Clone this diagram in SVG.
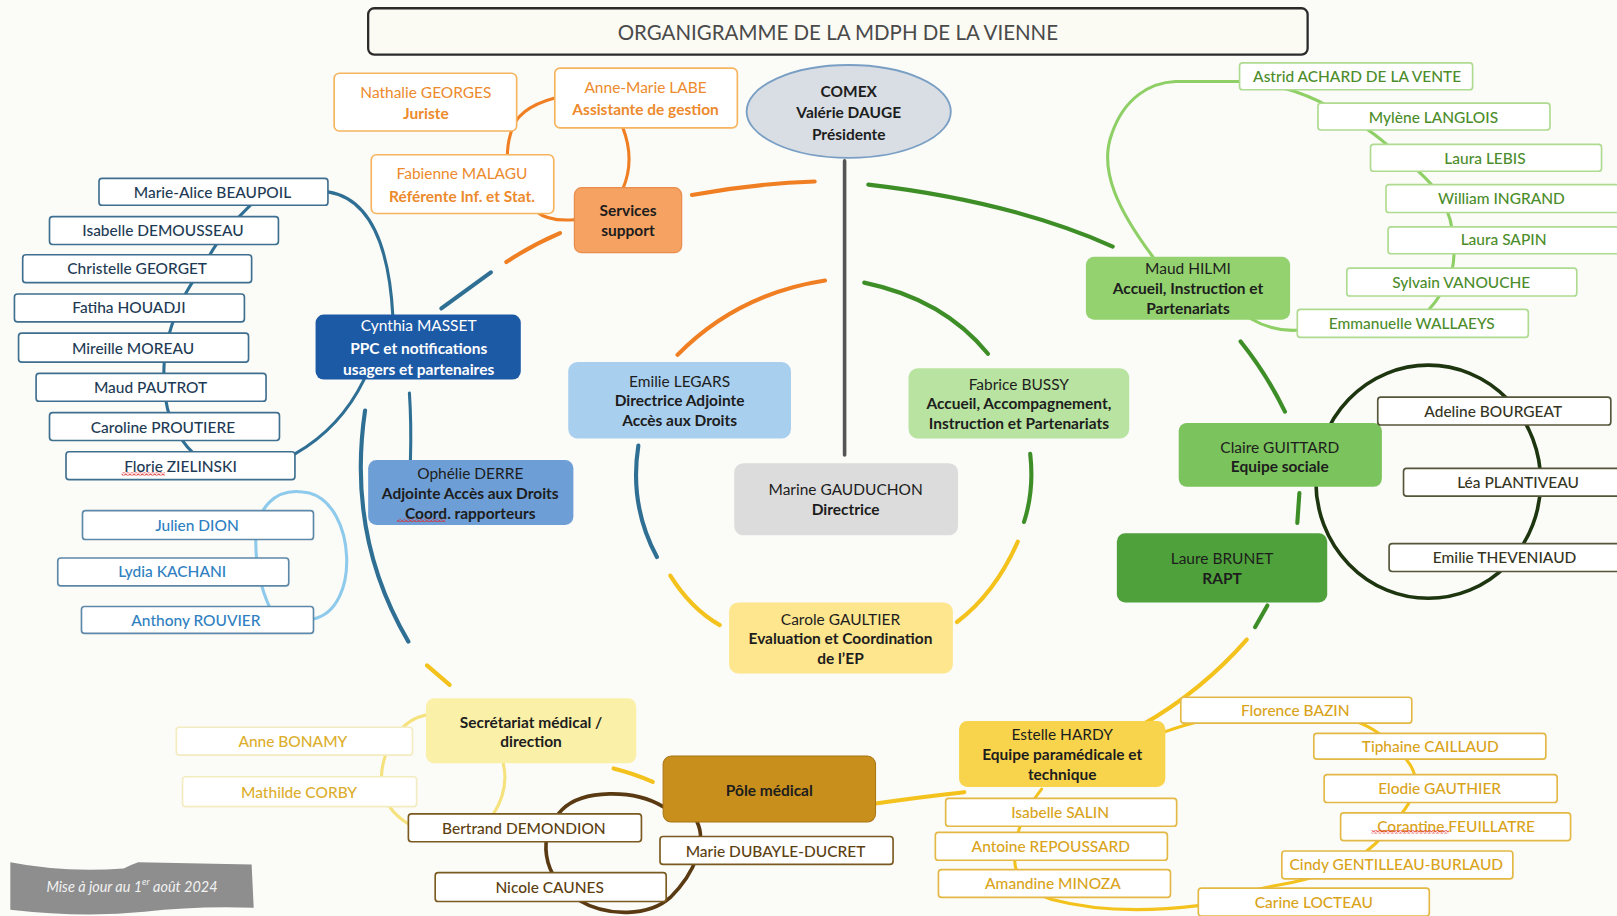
<svg xmlns="http://www.w3.org/2000/svg" width="1617" height="916" viewBox="0 0 1617 916">
<defs>
<style>
text{font-family:Lato,'Liberation Sans',Arial,sans-serif;font-size:15px;text-anchor:middle;dominant-baseline:central;fill:#1d1d1d}
.b{font-weight:700}
.m{font-weight:500}
.c{fill:none;stroke-linecap:round}
.or{stroke:#ef7f22;stroke-width:4}
.or2{stroke:#ef7f22;stroke-width:3}
.bl{stroke:#2f6f93;stroke-width:4}
.bl2{stroke:#2f6f93;stroke-width:3}
.lbl{stroke:#8ecaeb;stroke-width:3}
.gd{stroke:#3e8e28;stroke-width:4}
.gl{stroke:#8fd066;stroke-width:3}
.dk{stroke:#1e3610;stroke-width:3.5}
.ye{stroke:#f4c21c;stroke-width:4}
.ye2{stroke:#f4c21c;stroke-width:3}
.py{stroke:#f5e27c;stroke-width:3}
.br{stroke:#5a3a12;stroke-width:3.5}
.gr{stroke:#555;stroke-width:3.5}
.lb{fill:#fff;stroke-width:1.6}
.so{stroke:#f6b45e}
.sd{stroke:#3f6f8f}
.sl{stroke:#5d88a8}
.sg{stroke:#aedb90}
.sk{stroke:#55553a}
.sy{stroke:#e3b845}
.sp{stroke:#f3ecc0}
.sb{stroke:#7a5a20}
.to{fill:#ec8a2c}
.td{fill:#1e3b55}
.tl{fill:#2f7fc1}
.tg{fill:#4c8d2b}
.tk{fill:#35351f}
.ty{fill:#d9a31a}
.tp{fill:#dcae2c}
.tb{fill:#5c4010}
</style>
<pattern id="sq" width="4" height="3" patternUnits="userSpaceOnUse"><path d="M0,2.5 L2,0.5 L4,2.5" fill="none" stroke="#e02020" stroke-width="0.9"/></pattern>
</defs>
<rect x="0" y="0" width="1617" height="916" fill="#fbfbf8"/>
<g transform="scale(1.03125 1.0315)">

<g id="title">
<rect x="357" y="8" width="911" height="45" rx="6" fill="#fbfbf4" stroke="#2a2a2a" stroke-width="2.2"/>
<text x="812.5" y="31" style="font-size:20px;fill:#4a4a4a" textLength="427" lengthAdjust="spacingAndGlyphs">ORGANIGRAMME DE LA MDPH DE LA VIENNE</text>
</g>

<g id="connectors">
<!-- central line -->
<path class="c gr" d="M819,156 L819,441"/>
<!-- outer ring -->
<path class="c or" d="M671,189 Q730,178 790,176"/>
<path class="c gd" d="M842,179 Q980,195 1079,239"/>
<path class="c gd" d="M1203,331 Q1228,362 1246,399"/>
<path class="c gd" d="M1260,478 L1258,507"/>
<path class="c gd" d="M1229,587 L1217,608"/>
<path class="c ye" d="M1209,620 Q1165,670 1107,703"/>
<path class="c ye" d="M935,768 Q890,773 849,779"/>
<path class="c ye" d="M595,745 Q615,750 633,758"/>
<path class="c ye" d="M414,645 L436,664"/>
<path class="c bl" d="M354,398 Q336,520 396,622"/>
<path class="c bl" d="M428,299 L476,264"/>
<path class="c or" d="M491,254 Q515,238 543,226"/>
<!-- inner ring -->
<path class="c or" d="M657,344 Q715,285 800,272"/>
<path class="c gd" d="M838,274 Q915,290 958,343"/>
<path class="c bl" d="M619,432 Q610,490 637,540"/>
<path class="c ye" d="M650,558 Q670,590 698,606"/>
<path class="c gd" d="M999,440 Q1003,475 993,506"/>
<path class="c ye" d="M987,525 Q965,575 928,603"/>
<!-- services support group -->
<path class="c or2" d="M538,95 Q500,105 495,130 Q492,140 492,152"/>
<path class="c or2" d="M604,124 Q616,155 604,183"/>
<path class="c or2" d="M520,205 Q532,215 557,213"/>
<!-- Cynthia group -->
<path class="c bl2" d="M250,192 Q215,225 203,248 Q185,275 177,290 Q160,325 159,356 Q158,385 165,405 Q172,425 190,442"/>
<path class="c bl2" d="M318,186 Q375,195 381,307"/>
<path class="c bl2" d="M286,440 Q330,415 353,368"/>
<path class="c bl2" d="M397,381 Q399,410 398,446"/>
<path class="c lbl" d="M304,600 C350,590 345,490 300,478 C265,470 248,495 248,525 C248,555 255,575 262,590"/>
<!-- Maud HILMI group -->
<path class="c gl" d="M1118,249 C1085,205 1065,165 1078,130 C1090,95 1115,80 1140,79 L1204,79"/>
<path class="c gl" d="M1240,84 Q1270,92 1290,104 Q1330,125 1350,145 Q1380,168 1393,185 Q1406,205 1408,222 Q1412,245 1408,262 Q1400,285 1384,302"/>
<path class="c gl" d="M1213,309 Q1235,322 1260,320"/>
<!-- Claire loop -->
<ellipse class="c dk" cx="1385" cy="467" rx="109" ry="113"/>
<!-- Estelle group -->
<path class="c ye2" d="M1128,710 Q1150,702 1170,698"/>
<path class="c ye2" d="M1300,695 Q1330,702 1345,718 Q1372,740 1372,755 Q1370,775 1362,785 Q1345,810 1322,828 Q1290,850 1240,858 Q1200,865 1162,878 Q1080,888 1020,872 Q985,860 984,835 Q982,800 1010,765"/>
<!-- Secretariat group -->
<path class="c py" d="M414,693 Q395,697 385,712 Q368,735 370,760 Q372,785 398,800"/>
<path class="c py" d="M488,740 Q494,765 478,790"/>
<!-- Pole medical loop -->
<path class="c br" d="M643,782 C615,765 565,765 545,785 C520,810 525,850 560,872 C590,890 630,888 650,870 C675,845 685,815 676,797"/>
</g>

<g id="comex">
<ellipse cx="823" cy="108" rx="99" ry="45" fill="#d9dee4" stroke="#7a9fc4" stroke-width="1.8"/>
<text x="823" y="88" class="b">COMEX</text>
<text x="823" y="109" class="b">Valérie DAUGE</text>
<text x="823" y="130" class="b">Présidente</text>
</g>

<g id="directrice">
<rect x="712" y="449" width="217" height="70" rx="9" fill="#dcdcdc"/>
<text x="820" y="474">Marine GAUDUCHON</text>
<text x="820" y="493" class="b">Directrice</text>
</g>

<g id="services-support">
<rect x="557" y="182" width="104" height="63" rx="7" fill="#f5a262" stroke="#e98d4c" stroke-width="1.2"/>
<text x="609" y="204" class="b">Services</text>
<text x="609" y="223" class="b">support</text>
</g>
<g id="nathalie-georges">
<rect x="324" y="71" width="177" height="56" rx="5" class="lb so"/>
<text x="413" y="89" class="to">Nathalie GEORGES</text>
<text x="413" y="110" class="to b">Juriste</text>
</g>
<g id="anne-marie-labe">
<rect x="538" y="66" width="177" height="58" rx="5" class="lb so"/>
<text x="626" y="84" class="to">Anne-Marie LABE</text>
<text x="626" y="106" class="to b">Assistante de gestion</text>
</g>
<g id="fabienne-malagu">
<rect x="360" y="150" width="177" height="57" rx="5" class="lb so"/>
<text x="448" y="168" class="to">Fabienne MALAGU</text>
<text x="448" y="190" class="to b">Référente Inf. et Stat.</text>
</g>

<g id="cynthia-masset">
<rect x="306" y="305" width="199" height="63" rx="8" fill="#1d5aa6"/>
<text x="406" y="315" style="fill:#fff">Cynthia MASSET</text>
<text x="406" y="337" class="b" style="fill:#fff">PPC et notifications</text>
<text x="406" y="358" class="b" style="fill:#fff">usagers et partenaires</text>
</g>
<g id="marie-alice-beaupoil"><rect x="96" y="173" width="222" height="26" rx="3" class="lb sd"/><text x="206" y="186" class="td m">Marie-Alice BEAUPOIL</text></g>
<g id="isabelle-demousseau"><rect x="48" y="210" width="222" height="27" rx="3" class="lb sd"/><text x="158" y="223" class="td m">Isabelle DEMOUSSEAU</text></g>
<g id="christelle-georget"><rect x="22" y="247" width="222" height="27" rx="3" class="lb sd"/><text x="133" y="260" class="td m">Christelle GEORGET</text></g>
<g id="fatiha-houadji"><rect x="14" y="285" width="223" height="27" rx="3" class="lb sd"/><text x="125" y="298" class="td m">Fatiha HOUADJI</text></g>
<g id="mireille-moreau"><rect x="18" y="323" width="223" height="28" rx="3" class="lb sd"/><text x="129" y="337" class="td m">Mireille MOREAU</text></g>
<g id="maud-pautrot"><rect x="35" y="362" width="223" height="27" rx="3" class="lb sd"/><text x="146" y="375" class="td m">Maud PAUTROT</text></g>
<g id="caroline-proutiere"><rect x="48" y="400" width="223" height="27" rx="3" class="lb sd"/><text x="158" y="414" class="td m">Caroline PROUTIERE</text></g>
<g id="florie-zielinski"><rect x="64" y="438" width="222" height="27" rx="3" class="lb sd"/><text x="175" y="452" class="td m">Florie ZIELINSKI</text><rect x="118" y="458" width="42" height="3" fill="url(#sq)"/></g>

<g id="ophelie-derre">
<rect x="357" y="446" width="199" height="63" rx="8" fill="#6d9fd6"/>
<text x="456" y="459">Ophélie DERRE</text>
<text x="456" y="478" class="b">Adjointe Accès aux Droits</text>
<text x="456" y="497" class="b">Coord. rapporteurs</text>
<rect x="385" y="503" width="47" height="3" fill="url(#sq)"/>
</g>
<g id="julien-dion"><rect x="80" y="495" width="224" height="28" rx="3" class="lb sl"/><text x="191" y="509" class="tl m">Julien DION</text></g>
<g id="lydia-kachani"><rect x="56" y="541" width="224" height="27" rx="3" class="lb sl"/><text x="167" y="554" class="tl m">Lydia KACHANI</text></g>
<g id="anthony-rouvier"><rect x="79" y="588" width="225" height="26" rx="3" class="lb sl"/><text x="190" y="601" class="tl m">Anthony ROUVIER</text></g>

<g id="emilie-legars">
<rect x="551" y="351" width="216" height="74" rx="9" fill="#a9cfee"/>
<text x="659" y="369">Emilie LEGARS</text>
<text x="659" y="388" class="b">Directrice Adjointe</text>
<text x="659" y="407" class="b">Accès aux Droits</text>
</g>
<g id="fabrice-bussy">
<rect x="881" y="357" width="214" height="68" rx="9" fill="#b8e3a0"/>
<text x="988" y="372">Fabrice BUSSY</text>
<text x="988" y="391" class="b">Accueil, Accompagnement,</text>
<text x="988" y="410" class="b">Instruction et Partenariats</text>
</g>
<g id="carole-gaultier">
<rect x="707" y="584" width="217" height="69" rx="9" fill="#fde68d"/>
<text x="815" y="600">Carole GAULTIER</text>
<text x="815" y="619" class="b">Evaluation et Coordination</text>
<text x="815" y="638" class="b">de l’EP</text>
</g>

<g id="maud-hilmi">
<rect x="1053" y="249" width="198" height="61" rx="8" fill="#93d26f"/>
<text x="1152" y="260">Maud HILMI</text>
<text x="1152" y="279" class="b">Accueil, Instruction et</text>
<text x="1152" y="299" class="b">Partenariats</text>
</g>
<g id="astrid-achard"><rect x="1202" y="61" width="226" height="26" rx="3" class="lb sg"/><text x="1316" y="74" class="tg m">Astrid ACHARD DE LA VENTE</text></g>
<g id="mylene-langlois"><rect x="1278" y="100" width="225" height="26" rx="3" class="lb sg"/><text x="1390" y="113" class="tg m">Mylène LANGLOIS</text></g>
<g id="laura-lebis"><rect x="1329" y="140" width="224" height="26" rx="3" class="lb sg"/><text x="1440" y="153" class="tg m">Laura LEBIS</text></g>
<g id="william-ingrand"><rect x="1344" y="179" width="226" height="27" rx="3" class="lb sg"/><text x="1456" y="192" class="tg m">William INGRAND</text></g>
<g id="laura-sapin"><rect x="1346" y="220" width="224" height="26" rx="3" class="lb sg"/><text x="1458" y="232" class="tg m">Laura SAPIN</text></g>
<g id="sylvain-vanouche"><rect x="1306" y="260" width="223" height="27" rx="3" class="lb sg"/><text x="1417" y="273" class="tg m">Sylvain VANOUCHE</text></g>
<g id="emmanuelle-wallaeys"><rect x="1258" y="300" width="224" height="27" rx="3" class="lb sg"/><text x="1369" y="313" class="tg m">Emmanuelle WALLAEYS</text></g>

<g id="claire-guittard">
<rect x="1143" y="410" width="197" height="62" rx="8" fill="#7bc35c"/>
<text x="1241" y="433">Claire GUITTARD</text>
<text x="1241" y="452" class="b">Equipe sociale</text>
</g>
<g id="adeline-bourgeat"><rect x="1336" y="385" width="226" height="27" rx="3" class="lb sk"/><text x="1448" y="398" class="tk m">Adeline BOURGEAT</text></g>
<g id="lea-plantiveau"><rect x="1361" y="454" width="210" height="27" rx="3" class="lb sk"/><text x="1472" y="467" class="tk m">Léa PLANTIVEAU</text></g>
<g id="emilie-theveniaud"><rect x="1347" y="527" width="224" height="27" rx="3" class="lb sk"/><text x="1459" y="540" class="tk m">Emilie THEVENIAUD</text></g>

<g id="laure-brunet">
<rect x="1083" y="517" width="204" height="67" rx="8" fill="#4fa23b"/>
<text x="1185" y="541">Laure BRUNET</text>
<text x="1185" y="560" class="b">RAPT</text>
</g>

<g id="estelle-hardy">
<rect x="930" y="699" width="200" height="64" rx="8" fill="#f8d44c"/>
<text x="1030" y="712">Estelle HARDY</text>
<text x="1030" y="731" class="b">Equipe paramédicale et</text>
<text x="1030" y="750" class="b">technique</text>
</g>
<g id="florence-bazin"><rect x="1145" y="676" width="224" height="25" rx="3" class="lb sy"/><text x="1256" y="688" class="ty m">Florence BAZIN</text></g>
<g id="tiphaine-caillaud"><rect x="1274" y="711" width="225" height="25" rx="3" class="lb sy"/><text x="1387" y="723" class="ty m">Tiphaine CAILLAUD</text></g>
<g id="elodie-gauthier"><rect x="1284" y="751" width="226" height="27" rx="3" class="lb sy"/><text x="1396" y="764" class="ty m">Elodie GAUTHIER</text></g>
<g id="corantine-feuillatre"><rect x="1300" y="788" width="223" height="27" rx="3" class="lb sy"/><text x="1412" y="801" class="ty m">Corantine FEUILLATRE</text><rect x="1330" y="805" width="75" height="3" fill="url(#sq)"/></g>
<g id="cindy-gentilleau"><rect x="1243" y="825" width="224" height="27" rx="3" class="lb sy"/><text x="1354" y="838" class="ty m">Cindy GENTILLEAU-BURLAUD</text></g>
<g id="carine-locteau"><rect x="1162" y="861" width="224" height="27" rx="3" class="lb sy"/><text x="1274" y="874" class="ty m">Carine LOCTEAU</text></g>
<g id="isabelle-salin"><rect x="917" y="774" width="224" height="27" rx="3" class="lb sy"/><text x="1028" y="787" class="ty m">Isabelle SALIN</text></g>
<g id="antoine-repoussard"><rect x="907" y="807" width="225" height="27" rx="3" class="lb sy"/><text x="1019" y="820" class="ty m">Antoine REPOUSSARD</text></g>
<g id="amandine-minoza"><rect x="910" y="843" width="225" height="27" rx="3" class="lb sy"/><text x="1021" y="856" class="ty m">Amandine MINOZA</text></g>

<g id="pole-medical">
<rect x="643" y="733" width="206" height="64" rx="8" fill="#c88f1c" stroke="#a87515" stroke-width="1"/>
<text x="746" y="766" class="b">Pôle médical</text>
</g>
<g id="bertrand-demondion"><rect x="396" y="789" width="226" height="27" rx="3" class="lb sb"/><text x="508" y="803" class="tb m">Bertrand DEMONDION</text></g>
<g id="marie-dubayle-ducret"><rect x="640" y="811" width="226" height="27" rx="3" class="lb sb"/><text x="752" y="825" class="tb m">Marie DUBAYLE-DUCRET</text></g>
<g id="nicole-caunes"><rect x="422" y="846" width="224" height="28" rx="3" class="lb sb"/><text x="533" y="860" class="tb m">Nicole CAUNES</text></g>

<g id="secretariat-medical">
<rect x="413" y="677" width="204" height="63" rx="8" fill="#fbf0a8"/>
<text x="515" y="700" class="b">Secrétariat médical /</text>
<text x="515" y="718" class="b">direction</text>
</g>
<g id="anne-bonamy"><rect x="171" y="705" width="229" height="27" rx="3" class="lb sp"/><text x="284" y="718" class="tp m">Anne BONAMY</text></g>
<g id="mathilde-corby"><rect x="177" y="753" width="227" height="29" rx="3" class="lb sp"/><text x="290" y="768" class="tp m">Mathilde CORBY</text></g>

<g id="mise-a-jour">
<path d="M10,836 Q60,846 120,842 Q128,838 134,836 L244,838 L246,880 Q190,878 140,884 Q80,890 10,882 Z" fill="#8e8e8e"/>
<text x="128" y="859" style="font-style:italic;font-size:14px;fill:#f2f2f2">Mise à jour au 1<tspan dy="-5" style="font-size:9px">er</tspan><tspan dy="5"> août 2024</tspan></text>
</g>

</g>
</svg>
